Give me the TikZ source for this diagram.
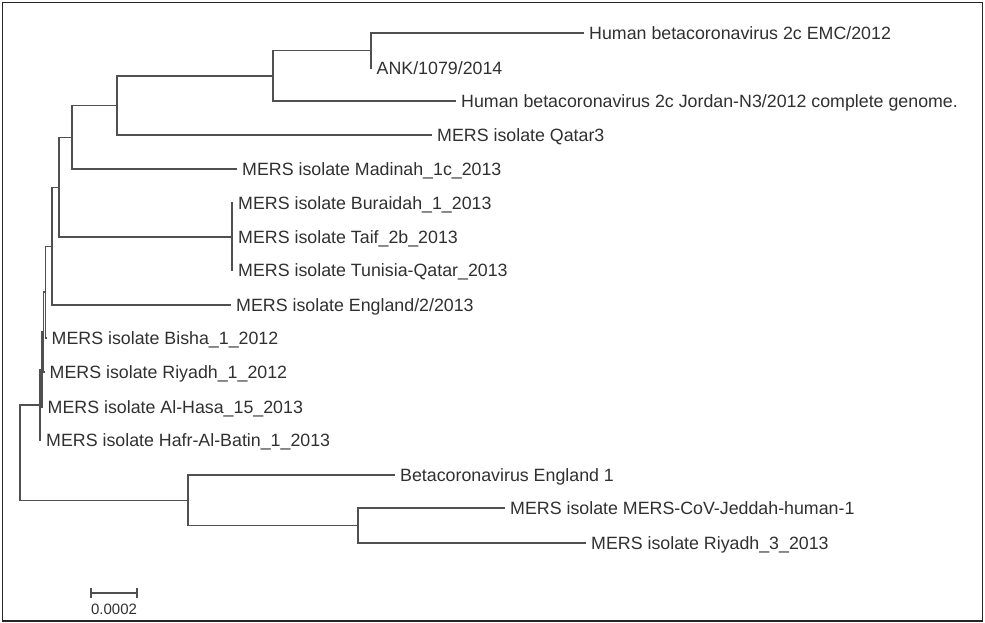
\documentclass[tikz,border=0pt]{standalone}
\usepackage{fontspec}
\setmainfont{Liberation Sans}
\definecolor{branchgray}{HTML}{505050}
\definecolor{labelgray}{HTML}{303030}

\begin{document}
\begin{tikzpicture}[x=1pt, y=-1pt,
	branch/.style={draw=branchgray, line width=1.3pt},
	leaf/.style={anchor=base west, inner xsep=5pt, yshift=-6.4pt, text=labelgray, font=\fontsize{17.8}{20}\selectfont},
	scalelabel/.style={text=labelgray, inner sep=0pt, font=\fontsize{15}{17}\selectfont}]
	\useasboundingbox (0,0) rectangle (985,623);
	\draw[black!85, line width=1.8pt] (2.5,2.5) rectangle (982.5,621);

	% inner nodes
	\coordinate (root) at (20.0, 452.5); % root
	\coordinate (n1) at (371.0, 50.5); % EMC + ANK
	\coordinate (n2) at (273.0, 76.0);
	\coordinate (n3) at (117.0, 105.5);
	\coordinate (n4) at (72.0, 137.5);
	\coordinate (n5) at (59.0, 187.5);
	\coordinate (n6) at (232.0, 237.0); % Buraidah, Taif, Tunisia
	\coordinate (n7) at (52.0, 246.5);
	\coordinate (n8) at (45.5, 292.0);
	\coordinate (n9) at (43.5, 332.0);
	\coordinate (n10) at (42.0, 369.5);
	\coordinate (n11) at (40.0, 405.0);
	\coordinate (n12) at (188.0, 500.5); % England 1 clade
	\coordinate (n13) at (358.0, 525.5);

	% tips
	\coordinate (tEMC) at (584.0, 33.0);
	\coordinate (tANK) at (371.5, 68.0);
	\coordinate (tJordan) at (456.0, 101.0);
	\coordinate (tQatar) at (432.0, 135.0);
	\coordinate (tMadinah) at (237.0, 169.0);
	\coordinate (tBuraidah) at (233.0, 203.0);
	\coordinate (tTaif) at (233.0, 237.0);
	\coordinate (tTunisia) at (233.0, 270.0);
	\coordinate (tEngland2) at (231.0, 305.0);
	\coordinate (tBisha) at (46.5, 338.0);
	\coordinate (tRiyadhA) at (44.5, 372.0);
	\coordinate (tHasa) at (42.5, 407.0);
	\coordinate (tHafr) at (41.0, 440.0);
	\coordinate (tEngland1) at (395.0, 475.0);
	\coordinate (tJeddah) at (505.0, 508.0);
	\coordinate (tRiyadhC) at (586.0, 543.0);

	\draw[branch] (root) |- (n11);
	\draw[branch] (root) |- (n12);
	\draw[branch] (n11) |- (n10);
	\draw[branch] (n11) |- (tHafr);
	\draw[branch] (n10) |- (n9);
	\draw[branch] (n10) |- (tHasa);
	\draw[branch] (n9) |- (n8);
	\draw[branch] (n9) |- (tRiyadhA);
	\draw[branch] (n8) |- (n7);
	\draw[branch] (n8) |- (tBisha);
	\draw[branch] (n7) |- (n5);
	\draw[branch] (n7) |- (tEngland2);
	\draw[branch] (n5) |- (n4);
	\draw[branch] (n5) |- (n6);
	\draw[branch] (n6) |- (tBuraidah);
	\draw[branch] (n6) |- (tTaif);
	\draw[branch] (n6) |- (tTunisia);
	\draw[branch] (n4) |- (n3);
	\draw[branch] (n4) |- (tMadinah);
	\draw[branch] (n3) |- (n2);
	\draw[branch] (n3) |- (tQatar);
	\draw[branch] (n2) |- (n1);
	\draw[branch] (n2) |- (tJordan);
	\draw[branch] (n1) |- (tEMC);
	\draw[branch] (n1) |- (tANK);
	\draw[branch] (n12) |- (tEngland1);
	\draw[branch] (n12) |- (n13);
	\draw[branch] (n13) |- (tJeddah);
	\draw[branch] (n13) |- (tRiyadhC);

	\node[leaf] (lEMC) at (tEMC) {Human betacoronavirus 2c EMC/2012};
	\node[leaf] (lANK) at (tANK) {ANK/1079/2014};
	\node[leaf] (lJordan) at (tJordan) {Human betacoronavirus 2c Jordan-N3/2012 complete genome.};
	\node[leaf] (lQatar) at (tQatar) {MERS isolate Qatar3};
	\node[leaf] (lMadinah) at (tMadinah) {MERS isolate Madinah\_1c\_2013};
	\node[leaf] (lBuraidah) at (tBuraidah) {MERS isolate Buraidah\_1\_2013};
	\node[leaf] (lTaif) at (tTaif) {MERS isolate Taif\_2b\_2013};
	\node[leaf] (lTunisia) at (tTunisia) {MERS isolate Tunisia-Qatar\_2013};
	\node[leaf] (lEngland2) at (tEngland2) {MERS isolate England/2/2013};
	\node[leaf] (lBisha) at (tBisha) {MERS isolate Bisha\_1\_2012};
	\node[leaf] (lRiyadhA) at (tRiyadhA) {MERS isolate Riyadh\_1\_2012};
	\node[leaf] (lHasa) at (tHasa) {MERS isolate Al-Hasa\_15\_2013};
	\node[leaf] (lHafr) at (tHafr) {MERS isolate Hafr-Al-Batin\_1\_2013};
	\node[leaf] (lEngland1) at (tEngland1) {Betacoronavirus England 1};
	\node[leaf] (lJeddah) at (tJeddah) {MERS isolate MERS-CoV-Jeddah-human-1};
	\node[leaf] (lRiyadhC) at (tRiyadhC) {MERS isolate Riyadh\_3\_2013};

	% scale bar
	\coordinate (sbL) at (91.0, 593.0);
	\coordinate (sbR) at (137.0, 593.0);
	\coordinate (sbLt) at (91.0, 588.0);
	\coordinate (sbLb) at (91.0, 598.0);
	\coordinate (sbRt) at (137.0, 588.0);
	\coordinate (sbRb) at (137.0, 598.0);
	\draw[branch] (sbL) -- (sbR);
	\draw[branch] (sbLt) -- (sbLb);
	\draw[branch] (sbRt) -- (sbRb);
	\node[scalelabel] (sbText) at (114.0, 609.5) {0.0002};
\end{tikzpicture}
\end{document}
